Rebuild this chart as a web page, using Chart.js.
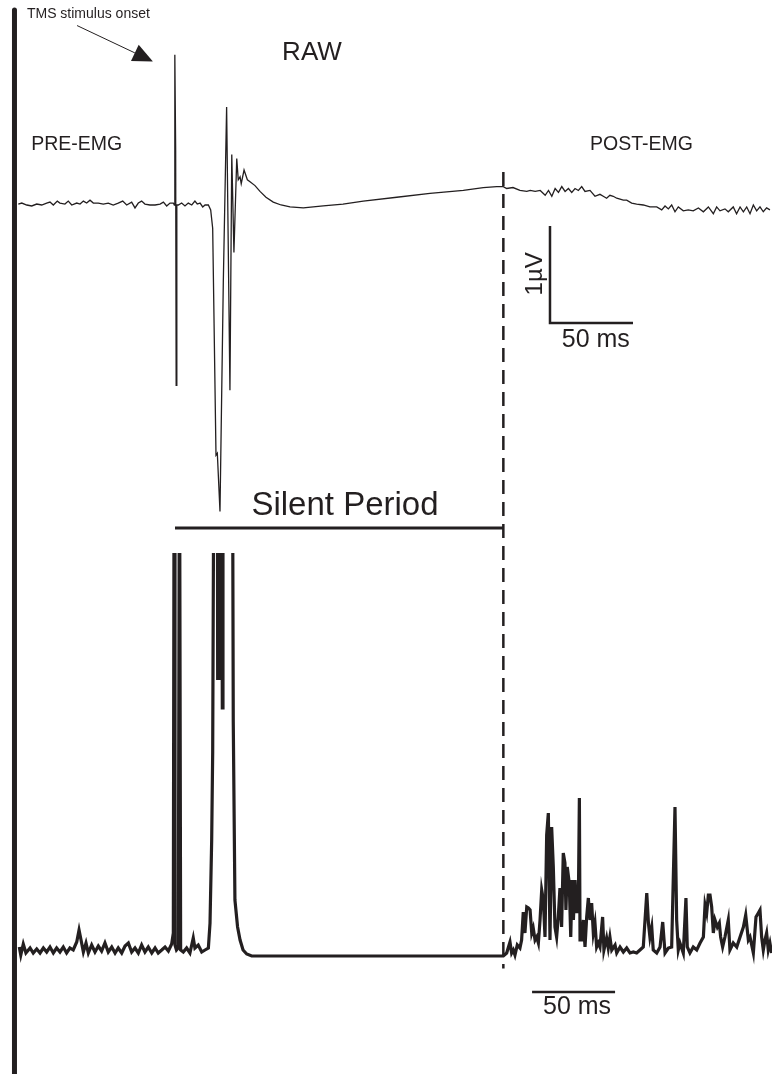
<!DOCTYPE html>
<html>
<head>
<meta charset="utf-8">
<script src="https://cdn.jsdelivr.net/npm/chart.js@4"></script>
<style>
  html, body { margin: 0; padding: 0; background: #ffffff; }
  #wrap { width: 772px; height: 1074px; }
</style>
</head>
<body>
<div id="wrap"><canvas id="emg" width="772" height="1074"></canvas></div>
<script>
// Raw EMG trace: [time (ms) relative to the TMS pulse, amplitude (µV)]
const rawPre = [
  [-94.4, 0.01], [-92.3, 0.02], [-89.3, 0.00], [-86.3, -0.01], [-83.3, 0.01], [-80.3, 0.00],
  [-77.3, 0.02], [-75.3, 0.03], [-73.3, 0.00], [-70.9, 0.04], [-69.3, 0.02], [-66.3, 0.01],
  [-64.3, 0.04], [-62.2, 0.00], [-59.2, 0.02], [-57.2, 0.01], [-55.2, 0.04], [-53.2, 0.02],
  [-51.2, 0.05], [-49.2, 0.02], [-46.2, 0.02], [-43.2, 0.01], [-40.2, 0.02], [-37.2, 0.00],
  [-34.2, 0.02], [-31.5, 0.04], [-29.1, 0.00], [-26.1, 0.03], [-24.1, -0.03], [-22.1, 0.02],
  [-20.1, 0.04], [-18.1, 0.01], [-15.1, 0.00], [-12.0, 0.00], [-9.0, 0.01], [-7.0, 0.03],
  [-5.0, -0.01], [-3.0, 0.02], [-1.0, 0.02]
];
// stimulus artefact, motor evoked potential and the slow recovery
const rawMep = [
  [-0.4, 0.00], [-0.1, 1.55], [0.4, 0.56], [0.7, -1.86], [1.1, 0.00],
  [2.0, 0.00], [4.0, 0.02], [6.0, -0.01], [8.0, 0.02], [10.1, 0.00], [12.0, 0.04],
  [13.4, 0.01], [15.1, 0.02], [16.7, -0.02], [18.1, 0.00], [20.1, 0.00], [21.5, -0.05],
  [22.7, -0.24], [24.7, -2.58], [25.5, -2.56], [27.1, -3.16], [29.1, -0.80], [31.1, 1.01],
  [33.1, -1.91], [34.2, 0.52], [35.5, -0.49], [37.2, 0.48], [38.1, 0.26], [39.2, 0.29],
  [39.9, 0.22], [41.6, 0.36], [43.6, 0.26], [45.2, 0.24], [48.2, 0.20], [51.2, 0.14],
  [54.8, 0.08], [59.2, 0.03], [63.9, 0.00], [69.3, -0.02], [77.3, -0.03], [89.3, -0.01],
  [101.2, 0.01], [113.4, 0.04], [133.6, 0.08], [153.6, 0.12], [173.7, 0.15], [185.7, 0.18],
  [193.8, 0.19]
];
const rawPost = [
  [197.8, 0.19], [199.8, 0.17], [203.6, 0.18], [207.8, 0.15], [211.9, 0.14], [214.0, 0.15],
  [217.0, 0.14], [220.0, 0.15], [223.0, 0.10], [225.0, 0.15], [227.0, 0.09], [229.0, 0.17],
  [231.0, 0.13], [233.0, 0.19], [235.0, 0.14], [237.0, 0.17], [239.0, 0.13], [241.0, 0.17],
  [243.0, 0.15], [245.0, 0.19], [247.0, 0.14], [250.0, 0.15], [253.0, 0.09], [256.0, 0.11],
  [258.0, 0.09], [260.0, 0.07], [262.0, 0.10], [264.0, 0.09], [266.1, 0.07], [268.1, 0.06],
  [270.1, 0.05], [272.1, 0.05], [275.1, 0.02], [278.1, 0.01], [282.1, 0.00], [286.1, -0.02],
  [290.2, -0.02], [293.2, -0.05], [295.2, -0.01], [297.2, -0.04], [299.2, 0.00], [301.2, -0.07],
  [303.2, -0.02], [306.2, -0.06], [309.2, -0.05], [312.2, -0.06], [315.3, -0.03], [318.3, -0.07],
  [321.3, -0.02], [324.3, -0.09], [326.3, -0.02], [328.3, -0.06], [331.3, -0.04], [333.3, -0.07],
  [336.3, -0.02], [338.3, -0.09], [340.4, -0.02], [342.4, -0.07], [344.4, -0.02], [346.4, -0.09],
  [348.4, 0.00], [350.4, -0.06], [352.4, -0.02], [354.4, -0.07], [356.4, -0.03], [358.4, -0.05]
];

// Rectified EMG trace: [time (ms), rectified amplitude (a.u.)]
const rectPre = [
  [-93.8, 0.09], [-92.9, 0.01], [-91.4, 0.12], [-89.8, 0.03], [-87.3, 0.08], [-85.4, 0.03],
  [-83.3, 0.07], [-81.3, 0.03], [-79.3, 0.08], [-77.3, 0.04], [-75.3, 0.09], [-73.3, 0.03],
  [-71.3, 0.08], [-69.3, 0.04], [-67.3, 0.09], [-65.3, 0.03], [-63.3, 0.08], [-61.3, 0.06],
  [-59.2, 0.14], [-57.8, 0.26], [-56.6, 0.16], [-55.2, 0.04], [-53.6, 0.13], [-52.2, 0.03],
  [-50.2, 0.11], [-48.2, 0.04], [-46.2, 0.10], [-44.2, 0.05], [-42.2, 0.13], [-40.2, 0.04],
  [-38.1, 0.09], [-36.1, 0.03], [-34.2, 0.08], [-32.1, 0.03], [-30.1, 0.10], [-28.1, 0.13],
  [-26.1, 0.04], [-24.1, 0.08], [-22.1, 0.03], [-20.1, 0.11], [-18.1, 0.04], [-16.1, 0.09],
  [-14.0, 0.03], [-12.0, 0.08], [-10.1, 0.03], [-8.0, 0.06], [-6.0, 0.09], [-4.0, 0.05],
  [-2.0, 0.12], [-1.0, 0.23]
];
const rectMep = [
  [-0.5, 5.5], [0.0, 0.11], [0.9, 0.06], [2.0, 0.08], [2.7, 5.5], [3.4, 0.06],
  [5.0, 0.04], [7.0, 0.08], [9.0, 0.03], [11.0, 0.18], [12.0, 0.08], [14.0, 0.11],
  [16.1, 0.04], [18.1, 0.06], [20.1, 0.08], [21.1, 0.33], [22.1, 1.16], [22.7, 2.03],
  [23.5, 5.5], [25.5, 5.5], [25.7, 2.76], [26.1, 5.5], [27.0, 5.5], [27.1, 2.76],
  [27.5, 5.5], [28.1, 5.5], [28.5, 2.48], [28.9, 5.5], [34.6, 5.5], [35.1, 2.34],
  [36.1, 0.56], [37.7, 0.29], [39.2, 0.16], [41.0, 0.06], [43.2, 0.02], [46.2, 0.00],
  [197.8, 0.00]
];
const rectPost = [
  [199.8, 0.03], [201.8, 0.14], [202.8, 0.03], [203.8, 0.06], [204.8, 0.01], [206.2, 0.11],
  [207.8, 0.08], [208.8, 0.16], [209.8, 0.44], [210.8, 0.23], [211.9, 0.49], [212.9, 0.48],
  [213.9, 0.46], [214.9, 0.23], [215.8, 0.28], [216.9, 0.16], [217.9, 0.19], [218.9, 0.13],
  [219.9, 0.36], [220.9, 0.66], [221.9, 0.56], [222.9, 0.19], [223.9, 1.21], [224.9, 1.43],
  [225.9, 0.16], [226.9, 1.29], [227.9, 0.89], [228.9, 0.29], [229.9, 0.19], [230.9, 0.39],
  [231.9, 0.68], [232.9, 0.29], [233.9, 1.03], [234.9, 0.93], [235.5, 0.46], [236.3, 0.89],
  [237.5, 0.73], [238.4, 0.19], [239.2, 0.76], [240.0, 0.36], [241.0, 0.76], [242.0, 0.43],
  [243.0, 0.56], [243.6, 1.58], [244.0, 0.16], [245.0, 0.16], [246.0, 0.36], [247.0, 0.09],
  [248.0, 0.39], [249.0, 0.58], [250.0, 0.36], [251.0, 0.53], [252.0, 0.23], [253.0, 0.33],
  [254.0, 0.09], [255.0, 0.13], [256.0, 0.09], [257.6, 0.39], [258.4, 0.06], [260.0, 0.18],
  [261.0, 0.08], [262.0, 0.19], [263.1, 0.06], [265.1, 0.11], [266.1, 0.03], [268.1, 0.09],
  [270.1, 0.04], [272.1, 0.08], [274.1, 0.03], [276.1, 0.04], [278.1, 0.03], [280.1, 0.06],
  [282.1, 0.09], [284.2, 0.63], [285.2, 0.33], [286.1, 0.19], [287.2, 0.29], [288.1, 0.06],
  [290.2, 0.03], [292.2, 0.09], [293.8, 0.34], [295.2, 0.03], [297.2, 0.08], [299.2, 0.09],
  [301.2, 1.49], [302.2, 0.36], [303.2, 0.06], [304.2, 0.13], [306.2, 0.03], [307.8, 0.58],
  [308.6, 0.09], [310.2, 0.03], [312.2, 0.09], [314.3, 0.06], [316.3, 0.13], [318.3, 0.19],
  [319.3, 0.51], [320.3, 0.43], [321.3, 0.61], [322.3, 0.61], [323.3, 0.49], [324.3, 0.23],
  [325.3, 0.36], [326.7, 0.29], [327.9, 0.33], [328.7, 0.19], [329.9, 0.09], [331.3, 0.19],
  [333.3, 0.36], [334.3, 0.06], [336.3, 0.13], [338.4, 0.09], [340.4, 0.19], [342.4, 0.29],
  [343.8, 0.41], [345.4, 0.16], [346.4, 0.19], [348.4, 0.03], [350.0, 0.39], [351.4, 0.43],
  [352.4, 0.46], [353.4, 0.19], [354.4, 0.06], [355.4, 0.16], [356.4, 0.23], [357.4, 0.06],
  [358.4, 0.13], [359.4, 0.03]
];

// Timing of the silent period (ms after the pulse) and calibration bar sizes
const silentPeriod = [0, 197.8];
const calibration = { ms: 50, uV: 1 };

// ---- layout of the figure (data units of the two traces) ----
const INK = '#231f20';
const FONT = '"Liberation Sans", Arial, sans-serif';
const view = { tMin: -105.42, tMax: 359.64, rawTop: 2.1134, rawBottom: -8.9588, rectTop: 9.56, rectBottom: -1.18 };
const guide = {
  barT: -96.7, barTop: 2.01, barBottom: -9.5,
  dashTop: 0.34, dashBottom: -7.87,
  silentV: -3.33,
  rawCalT: 225.9, rawCalV: -1.216,
  rectCalT: 215.1, rectCalV: -0.36,
  rectClipTop: 553
};
const labels = [
  { text: 'TMS stimulus onset', t: -89.2, v: 1.93, axis: 'y', size: 14, align: 'left' },
  { text: 'RAW', t: 82.5, v: 1.49, axis: 'y', size: 26, align: 'center' },
  { text: 'PRE-EMG', t: -86.6, v: 0.57, axis: 'y', size: 19.5, align: 'left' },
  { text: 'POST-EMG', t: 250.0, v: 0.57, axis: 'y', size: 19.5, align: 'left' },
  { text: '1µV', t: 220.9, v: -0.71, axis: 'y', size: 24, align: 'center', rotate: -Math.PI / 2 },
  { text: '50 ms', t: 233.0, v: -1.46, axis: 'y', size: 25, align: 'left' },
  { text: 'Silent Period', t: 102.4, v: -3.20, axis: 'y', size: 33, align: 'center' },
  { text: '50 ms', t: 221.7, v: -0.58, axis: 'yRect', size: 25, align: 'left' }
];
const arrow = { from: [-59.0, 1.85], to: [-13.3, 1.48], head: 20, halfWidth: 9 };

const pts = arr => arr.map(([x, y]) => ({ x, y }));

const textPlugin = {
  id: 'emgAnnotations',
  afterDatasetsDraw(chart) {
    const { ctx, scales } = chart;
    const X = scales.x;
    ctx.save();
    ctx.fillStyle = INK;
    ctx.textBaseline = 'alphabetic';
    labels.forEach(l => {
      const px = X.getPixelForValue(l.t);
      const py = scales[l.axis].getPixelForValue(l.v);
      ctx.font = l.size + 'px ' + FONT;
      ctx.textAlign = l.align;
      ctx.save();
      ctx.translate(px, py);
      if (l.rotate) ctx.rotate(l.rotate);
      ctx.fillText(l.text, 0, 0);
      ctx.restore();
    });
    // pointer to the stimulus onset
    const x0 = X.getPixelForValue(arrow.from[0]), y0 = scales.y.getPixelForValue(arrow.from[1]);
    const x1 = X.getPixelForValue(arrow.to[0]), y1 = scales.y.getPixelForValue(arrow.to[1]);
    const ang = Math.atan2(y1 - y0, x1 - x0);
    const bx = x1 - arrow.head * Math.cos(ang), by = y1 - arrow.head * Math.sin(ang);
    ctx.strokeStyle = INK;
    ctx.lineWidth = 1;
    ctx.beginPath();
    ctx.moveTo(x0, y0);
    ctx.lineTo(bx, by);
    ctx.stroke();
    ctx.beginPath();
    ctx.moveTo(x1, y1);
    ctx.lineTo(bx + arrow.halfWidth * Math.sin(ang), by - arrow.halfWidth * Math.cos(ang));
    ctx.lineTo(bx - arrow.halfWidth * Math.sin(ang), by + arrow.halfWidth * Math.cos(ang));
    ctx.closePath();
    ctx.fill();
    ctx.restore();
  }
};

const lineDs = (data, extra) => Object.assign({
  data, parsing: true, borderColor: INK, backgroundColor: INK, pointRadius: 0,
  pointHoverRadius: 0, tension: 0, fill: false, yAxisID: 'y', borderJoinStyle: 'miter'
}, extra);

new Chart(document.getElementById('emg'), {
  type: 'line',
  data: {
    datasets: [
      // left-hand vertical rule
      lineDs(pts([[guide.barT, guide.barTop], [guide.barT, guide.barBottom]]), { borderWidth: 5, borderCapStyle: 'round' }),
      // raw trace
      lineDs(pts(rawPre.concat(rawMep, rawPost)), { borderWidth: 1.3 }),
      // rectified trace (spikes run off the top of its panel)
      lineDs(pts(rectPre.concat(rectMep, rectPost)), {
        borderWidth: 3.2, yAxisID: 'yRect',
        clip: { left: false, top: -guide.rectClipTop, right: false, bottom: false }
      }),
      // end of the silent period
      lineDs(pts([[silentPeriod[1], guide.dashTop], [silentPeriod[1], guide.dashBottom]]), { borderWidth: 2.5, borderDash: [14, 8], borderCapStyle: 'butt' }),
      // silent period bar
      lineDs(pts([[silentPeriod[0], guide.silentV], [silentPeriod[1], guide.silentV]]), { borderWidth: 3 }),
      // calibration bars
      lineDs(pts([[guide.rawCalT, guide.rawCalV + calibration.uV], [guide.rawCalT, guide.rawCalV], [guide.rawCalT + calibration.ms, guide.rawCalV]]), { borderWidth: 2.5 }),
      lineDs(pts([[guide.rectCalT, guide.rectCalV], [guide.rectCalT + calibration.ms, guide.rectCalV]]), { borderWidth: 2.5, yAxisID: 'yRect' })
    ]
  },
  options: {
    responsive: false,
    devicePixelRatio: 1,
    animation: false,
    events: [],
    layout: { padding: 0 },
    plugins: { legend: { display: false }, tooltip: { enabled: false }, title: { display: false } },
    scales: {
      x: { type: 'linear', min: view.tMin, max: view.tMax, display: false },
      y: { type: 'linear', min: view.rawBottom, max: view.rawTop, display: false },
      yRect: { type: 'linear', min: view.rectBottom, max: view.rectTop, display: false }
    }
  },
  plugins: [textPlugin]
});
</script>
</body>
</html>
